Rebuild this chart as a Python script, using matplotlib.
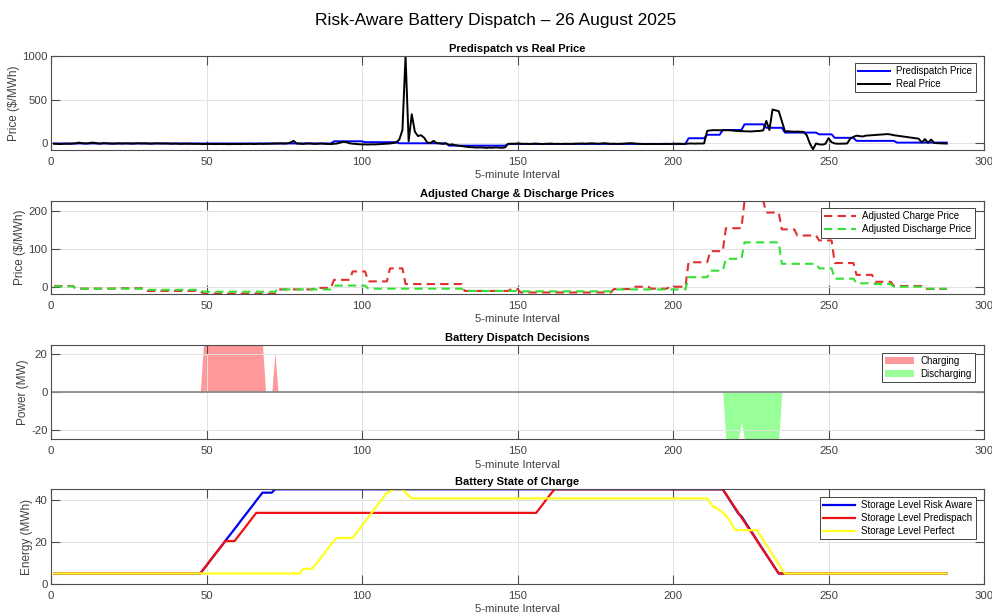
import numpy as np
import matplotlib
matplotlib.use('Agg')
import matplotlib.pyplot as plt

plt.rcParams['font.family'] = ['Liberation Sans', 'DejaVu Sans']
plt.rcParams['axes.unicode_minus'] = False

# ---------------- data ----------------
intervals = np.arange(1, 289)
x_ticks = [0, 50, 100, 150, 200, 250, 300]


def runs(pairs):
    out = []
    for v, n in pairs:
        out += [v] * n
    return np.array(out, dtype=float)


predispatch_price = runs([(-5, 90), (20, 10), (10, 11), (-3, 16), (-30, 19), (-10, 58),
                          (55, 6), (95, 5), (150, 7), (215, 7), (175, 6), (120, 11),
                          (100, 5), (60, 7), (25, 13), (5, 17)])

real_price = np.array([
    -8, -10, -12, -9, -8, -10, -6, -3, 5, -2,
    -6, -4, 5, 3, -5, -7, 0, -4, -6, -8,
    -5, -4, -6, -3, -5, -7, -4, -2, -5, -3,
    -6, -8, -5, -3, -4, -6, -4, -7, -9, -6,
    -8, -10, -7, -9, -8, -10, -9, -11, -12, -10,
    -11, -13, -12, -10, -12, -11, -13, -12, -10, -11,
    -12, -10, -11, -9, -12, -10, -8, -10, -9, -7,
    -8, -6, -5, -4, -6, -3, 5, 25, -5, -8,
    -10, -6, -4, -8, -10, -7, -5, -9, -10, -12,
    -8, -5, 5, 15, 10, -3, -8, -10, -14, -15,
    -16, -17, -15, -16, -14, -12, -10, -8, -5, 0,
    5, 40, 150, 1000, 20, 330, 130, 80, 90, 60,
    5, 0, 25, 0, -5, -10, -5, -20, -15, -25,
    -30, -35, -40, -45, -48, -50, -52, -50, -53, -55,
    -52, -54, -50, -52, -55, -50, -10, -8, -9, -5,
    -8, -10, -9, -11, -8, -6, -10, -12, -9, -8,
    -7, -10, -9, -11, -8, -9, -10, -8, -7, -6,
    -5, -8, -4, -3, -6, -8, -5, -2, -6, -9,
    -8, -10, -9, -7, -5, -2, -3, -7, -9, -10,
    -12, -11, -9, -10, -12, -11, -10, -9, -11, -10,
    -9, -8, -10, -9, -6, -5, -7, -5, -6, -4,
    140, 145, 148, 148, 147, 146, 148, 147, 145, 140,
    138, 136, 135, 134, 133, 135, 137, 140, 145, 255,
    150, 385, 375, 366, 250, 135, 135, 133, 130, 132,
    130, 128, 90, -5, -72, -5, -15, -18, -10, 55,
    10, -5, -8, -8, -7, -5, 50, 70, 85, 80,
    75, 85, 88, 90, 92, 95, 98, 100, 103, 98,
    90, 85, 80, 75, 70, 65, 60, 55, 50, 5,
    45, 2, 40, 0, -2, -4, -5, -6], dtype=float)

adj_charge_price = runs([(4, 7), (-3, 13), (-2, 10), (-9, 18), (-16, 24), (-5, 12), (-1, 6),
                         (20, 6), (42, 5), (16, 7), (50, 5), (9, 19), (-9, 15), (-4, 3),
                         (-13, 30), (-4, 6), (2, 6), (-3, 6), (2, 6), (66, 7), (95, 5),
                         (155, 6), (227, 7), (196, 5), (152, 5), (136, 7), (123, 5),
                         (64, 7), (33, 6), (15, 6), (4, 10), (-4, 8)])

adj_discharge_price = runs([(3, 7), (-3, 23), (-6, 18), (-11, 24), (-5, 18), (5, 11),
                            (-3, 31), (-9, 18), (-10, 30), (-5, 24), (27, 7), (44, 5),
                            (75, 6), (118, 12), (62, 12), (50, 5), (23, 7), (11, 6),
                            (9, 6), (2, 10), (-3, 8)])

power = runs([(0, 48), (25, 20), (0, 3), (21, 1), (0, 144), (-25, 5), (-16, 1),
              (-25, 12), (0, 54)])

soc_risk_aware = np.array(
    [5] * 48
    + [6.9, 8.8, 10.8, 12.7, 14.6, 16.5, 18.4, 20.4, 22.3, 24.2,
       26.1, 28.0, 30.0, 31.9, 33.8, 35.7, 37.6, 39.6, 41.5, 43.4]
    + [43.4] * 3
    + [45] * 145
    + [42.7, 40.4, 38.1, 35.8, 33.5, 32.2, 29.9, 27.6, 25.4, 23.1,
       20.8, 18.5, 16.3, 14.0, 11.7, 9.5, 7.2, 5.0]
    + [5] * 54, dtype=float)

soc_predispatch = np.array(
    [5] * 48
    + [6.9, 8.8, 10.8, 12.7, 14.6, 16.5, 18.4, 20.4]
    + [20.4] * 3
    + [22.3, 24.2, 26.1, 28.0, 30.0, 31.9, 33.8]
    + [33.8] * 90
    + [35.7, 37.6, 39.6, 41.5, 43.4, 45.0]
    + [45] * 54
    + [42.8, 40.6, 38.3, 36.1, 33.9, 31.7, 29.4, 27.2, 25.0, 22.8,
       20.6, 18.3, 16.1, 13.9, 11.7, 9.4, 7.2, 5.0]
    + [5] * 54, dtype=float)

soc_perfect = np.array(
    [5] * 80
    + [7.2] * 4
    + [9.1, 11.0, 12.9, 14.8, 16.7, 18.6, 20.5, 21.9]
    + [21.9] * 5
    + [23.9, 25.8, 27.8, 29.7, 31.7, 33.6, 35.6, 37.5, 39.5, 41.4, 43.4]
    + [43.8]
    + [45] * 4
    + [43.5, 42.0, 40.7]
    + [40.7] * 95
    + [38.5, 36.6, 36.0, 35.0, 34.0, 32.5, 30.7, 28.0, 25.6]
    + [25.6] * 7
    + [23.3, 21.0, 18.7, 16.4, 14.0, 11.7, 9.4, 7.0, 5.0]
    + [5] * 52, dtype=float)

# ---------------- figure ----------------
W, H = 992, 616
fig = plt.figure(figsize=(W / 100, H / 100), dpi=100)


def ax_at(l, t, r, b):
    return fig.add_axes([l / W, 1 - b / H, (r - l) / W, (b - t) / H])


TXT = '#404040'


def style(ax, ylim, yticks, title, ylabel):
    ax.set_xlim(0, 300)
    ax.set_ylim(*ylim)
    ax.set_xticks(x_ticks)
    ax.set_yticks(yticks)
    ax.tick_params(direction='in', length=6.5, width=0.8, top=True, right=True,
                   labelsize=8.2, colors='#4d4d4d', labelcolor=TXT)
    ax.tick_params(axis='x', pad=5)
    ax.tick_params(axis='y', pad=2.5)
    ax.grid(True, color='#e2e2e2', lw=0.7)
    for s in ax.spines.values():
        s.set_color('#4d4d4d')
        s.set_linewidth(0.8)
    ax.set_xlabel('5-minute Interval', fontsize=8.2, color=TXT, labelpad=2.5)
    ax.set_ylabel(ylabel, fontsize=8.5, color=TXT, labelpad=1.5)
    ax.set_title(title, fontsize=8, fontweight='bold', pad=3)


def legend(ax, rx, ty, hl=3.3):
    leg = ax.legend(loc='upper right', bbox_to_anchor=(rx, ty), fontsize=7,
                    frameon=True, fancybox=False, edgecolor='#262626', framealpha=1,
                    borderpad=0.35, labelspacing=0.3, handlelength=hl,
                    handletextpad=0.6, borderaxespad=0)
    leg.get_frame().set_linewidth(0.6)
    return leg


# Panel 1
ax1 = ax_at(51, 56, 984, 150)
ax1.plot(intervals, predispatch_price, color='#0000ff', lw=1.4, label='Predispatch Price')
ax1.plot(intervals, real_price, color='black', lw=1.4, label='Real Price')
style(ax1, (-80, 1000), [0, 500, 1000], 'Predispatch vs Real Price', r'Price (\$/MWh)')
legend(ax1, 0.991, 0.929)

# Panel 2
ax2 = ax_at(51, 200.7, 984, 294)
ax2.plot(intervals, adj_charge_price, color='#e03030', lw=1.5, ls=(0, (4, 2.5)),
         label='Adjusted Charge Price')
ax2.plot(intervals, adj_discharge_price, color='#33e033', lw=1.5, ls=(0, (4, 2.5)),
         label='Adjusted Discharge Price')
style(ax2, (-17, 227), [0, 100, 200], 'Adjusted Charge & Discharge Prices', r'Price (\$/MWh)')
legend(ax2, 0.990, 0.922)

# Panel 3
ax3 = ax_at(51, 345, 984, 439.3)
ax3.fill_between(intervals, 0, np.maximum(power, 0), color='#ff9999', lw=0, label='Charging')
ax3.fill_between(intervals, 0, np.minimum(power, 0), color='#99ff99', lw=0, label='Discharging')
ax3.axhline(0, color='#8c8c8c', lw=1.3, zorder=2)
style(ax3, (-25, 25), [-20, 0, 20], 'Battery Dispatch Decisions', 'Power (MW)')
legend(ax3, 0.990, 0.918, hl=3.0)

# Panel 4
ax4 = ax_at(51, 489.3, 984, 584)
ax4.plot(intervals, soc_risk_aware, color='#0000ee', lw=1.6, label='Storage Level Risk Aware')
ax4.plot(intervals, soc_predispatch, color='#ee1111', lw=1.6, label='Storage Level Predispach')
ax4.plot(intervals, soc_perfect, color='#ffff22', lw=1.6, label='Storage Level Perfect')
style(ax4, (0, 45), [0, 20, 40], 'Battery State of Charge', 'Energy (MWh)')
legend(ax4, 0.991, 0.922)

fig.suptitle('Risk-Aware Battery Dispatch \u2013 26 August 2025', fontsize=12.5, y=0.966,
             va='center')

fig.savefig('out.png', dpi=100)
